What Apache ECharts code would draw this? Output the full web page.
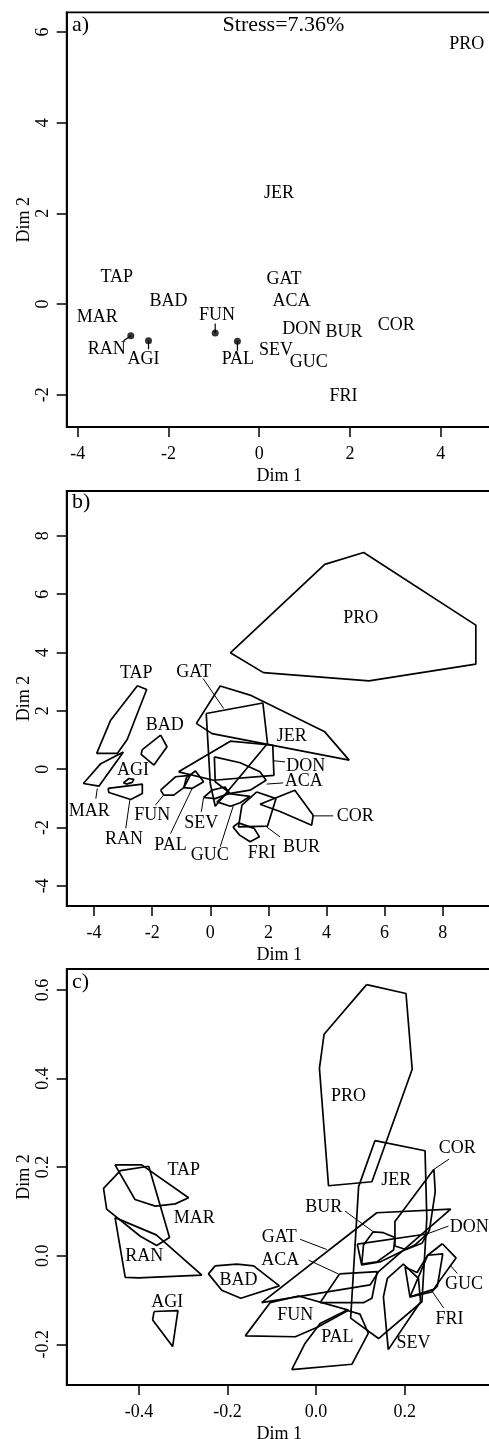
<!DOCTYPE html>
<html>
<head>
<meta charset="utf-8">
<script src="https://cdn.jsdelivr.net/npm/echarts@6/dist/echarts.min.js"></script>
<style>
html,body{margin:0;padding:0;background:#fff;}
#chart{width:489px;height:1439px;}
</style>
</head>
<body>
<div id="chart"></div>
<script>
const FONT = 'Liberation Serif';

// ---------- Panel a) : point configuration ----------
const namesA = ['PRO','JER','TAP','GAT','BAD','ACA','MAR','FUN','DON','BUR','COR','RAN','AGI','SEV','GUC','PAL','FRI'];
const xA = [4.575, 0.434, -3.14, 0.544, -2.0, 0.71, -3.57, -0.93, 0.94, 1.87, 3.02, -3.36, -2.55, 0.37, 1.09, -0.47, 1.86];
const yA = [5.73, 2.44, 0.58, 0.54, 0.07, 0.07, -0.30, -0.24, -0.55, -0.63, -0.46, -1.0, -1.22, -1.03, -1.29, -1.22, -2.04];
const dotsA = [[-2.83, -0.70], [-2.44, -0.81], [-0.97, -0.64], [-0.48, -0.82]];
const leadersA = [
  [[-2.83, -0.70], [-2.99, -0.81]],
  [[-2.44, -0.81], [-2.44, -1.00]],
  [[-0.97, -0.64], [-0.97, -0.43]],
  [[-0.48, -0.82], [-0.48, -1.03]]
];
const ticksAX = [-4, -2, 0, 2, 4];
const ticksAY = [-2, 0, 2, 4, 6];

// ---------- Panel b) : hulls ----------
const namesB = ['PRO','TAP','GAT','BAD','JER','DON','AGI','ACA','MAR','FUN','SEV','COR','RAN','PAL','GUC','FRI','BUR'];
const xB = [5.18, -2.55, -0.57, -1.57, 2.8, 3.29, -2.66, 3.22, -4.17, -2.0, -0.31, 4.99, -2.97, -1.37, -0.02, 1.77, 3.14];
const yB = [5.17, 3.28, 3.34, 1.49, 1.12, 0.11, -0.03, -0.43, -1.44, -1.58, -1.86, -1.63, -2.4, -2.61, -2.95, -2.89, -2.66];
const hullsB = [
  ['PRO', [[0.69,3.99],[3.94,7.02],[5.28,7.43],[9.14,4.94],[9.14,3.6],[5.46,3.03],[1.83,3.31]]],
  ['TAP', [[-2.51,2.86],[-2.19,2.73],[-2.86,1.02],[-3.2,0.54],[-3.91,0.54],[-3.43,1.68]]],
  ['BAD', [[-1.71,1.17],[-1.49,0.77],[-1.94,0.14],[-2.38,0.51],[-2.34,0.67]]],
  ['MAR', [[-2.99,0.59],[-3.77,0.19],[-4.37,-0.49],[-3.83,-0.58]]],
  ['AGI', [[-2.99,-0.47],[-2.8,-0.32],[-2.63,-0.35],[-2.69,-0.45],[-2.88,-0.51]]],
  ['RAN', [[-3.52,-0.66],[-2.34,-0.51],[-2.34,-0.83],[-2.74,-1.04],[-3.49,-0.8]]],
  ['FUN', [[-1.71,-0.72],[-1.6,-0.89],[-1.26,-0.89],[-0.91,-0.63],[-0.69,-0.21],[-1.2,-0.26]]],
  ['PAL', [[-0.91,-0.63],[-0.63,-0.66],[-0.23,-0.43],[-0.51,-0.06],[-0.82,-0.29]]],
  ['SEV', [[-0.23,-0.97],[0.06,-0.72],[0.51,-0.61],[0.66,-0.83],[0.17,-1.01]]],
  ['GUC', [[0.57,-0.83],[1.37,-0.93],[1.03,-1.15],[0.69,-1.27],[0.23,-1.12]]],
  ['JER', [[-0.48,1.57],[0.34,2.85],[1.37,2.54],[3.94,1.28],[4.78,0.31],[0.06,1.22]]],
  ['GAT', [[-0.14,1.91],[1.81,2.27],[1.97,0.88],[0.17,-1.27],[0.0,-0.5]]],
  ['DON', [[-1.09,-0.09],[0.69,0.96],[2.15,0.82],[2.19,-0.21],[0.11,-0.38]]],
  ['ACA', [[0.14,0.42],[1.03,0.22],[1.71,-0.09],[1.92,-0.38],[1.37,-0.72],[0.69,-0.83],[0.17,-0.43]]],
  ['BUR', [[1.6,-0.78],[2.26,-1.01],[1.97,-1.95],[0.97,-1.98],[1.09,-1.23]]],
  ['COR', [[1.71,-1.2],[2.91,-0.72],[3.54,-1.58],[3.49,-1.92],[2.4,-1.45]]],
  ['FRI', [[0.78,-1.98],[0.97,-1.84],[1.51,-2.03],[1.69,-2.32],[1.37,-2.49],[1.01,-2.26]]]
];
const leadersB = [
  [[-0.25,3.11],[0.46,2.08]],
  [[-3.89,-0.66],[-3.94,-1.01]],
  [[-2.77,-1.06],[-2.91,-2.03]],
  [[-1.6,-0.88],[-1.89,-1.23]],
  [[-0.63,-0.67],[-1.37,-2.21]],
  [[-0.23,-0.97],[-0.31,-1.46]],
  [[0.8,-1.23],[0.34,-2.66]],
  [[2.17,0.29],[2.57,0.25]],
  [[1.94,-0.51],[2.51,-0.47]],
  [[3.54,-1.6],[4.23,-1.6]],
  [[1.94,-1.98],[2.4,-2.32]]
];
const ticksBX = [-4, -2, 0, 2, 4, 6, 8];
const ticksBY = [-4, -2, 0, 2, 4, 6, 8];

// ---------- Panel c) : hulls ----------
const namesC = ['PRO','TAP','MAR','RAN','AGI','BAD','JER','COR','BUR','DON','GAT','ACA','GUC','FUN','FRI','PAL','SEV'];
const xC = [0.073, -0.299, -0.275, -0.388, -0.336, -0.175, 0.181, 0.319, 0.017, 0.346, -0.083, -0.081, 0.334, -0.047, 0.301, 0.048, 0.220];
const yC = [0.360, 0.193, 0.084, -0.002, -0.106, -0.056, 0.171, 0.242, 0.109, 0.065, 0.041, -0.010, -0.064, -0.134, -0.144, -0.185, -0.198];
const hullsC = [
  ['PRO', [[0.114,0.612],[0.203,0.592],[0.217,0.421],[0.126,0.167],[0.028,0.158],[0.0075,0.423],[0.018,0.500]]],
  ['TAP', [[-0.454,0.205],[-0.394,0.205],[-0.288,0.131],[-0.318,0.117],[-0.363,0.112],[-0.409,0.127]]],
  ['MAR', [[-0.378,0.202],[-0.331,0.041],[-0.36,0.023],[-0.397,0.044],[-0.473,0.105],[-0.48,0.152],[-0.442,0.192]]],
  ['RAN', [[-0.454,0.086],[-0.361,0.047],[-0.258,-0.044],[-0.401,-0.050],[-0.431,-0.049]]],
  ['AGI', [[-0.366,-0.126],[-0.312,-0.124],[-0.324,-0.205],[-0.369,-0.145]]],
  ['BAD', [[-0.228,-0.023],[-0.179,-0.019],[-0.141,-0.023],[-0.083,-0.068],[-0.170,-0.096],[-0.213,-0.078],[-0.243,-0.041]]],
  ['JER', [[0.133,0.260],[0.246,0.237],[0.250,0.084],[0.239,-0.104],[0.141,-0.187],[0.078,-0.141],[0.096,0.156]]],
  ['COR', [[0.266,0.195],[0.269,0.144],[0.256,0.058],[0.239,0.028],[0.203,0.014],[0.178,0.022],[0.178,0.077]]],
  ['GAT', [[-0.123,-0.106],[0.137,0.097],[0.304,0.105],[0.141,-0.036],[0.122,-0.066]]],
  ['ACA', [[0.053,-0.041],[0.138,-0.036],[0.126,-0.096],[0.107,-0.106],[0.009,-0.106]]],
  ['FUN', [[-0.160,-0.181],[-0.104,-0.106],[-0.040,-0.091],[0.073,-0.123],[0.004,-0.161],[-0.047,-0.183]]],
  ['PAL', [[-0.055,-0.257],[0.081,-0.245],[0.118,-0.175],[0.099,-0.132],[0.069,-0.123],[0.009,-0.153],[-0.025,-0.198]]],
  ['BUR', [[0.129,0.054],[0.152,0.052],[0.178,0.041],[0.175,0.013],[0.137,-0.014],[0.103,-0.019],[0.107,0.024]]],
  ['DON', [[0.093,0.026],[0.250,0.049],[0.223,0.024],[0.144,-0.014],[0.103,-0.021]]],
  ['SEV', [[0.163,-0.212],[0.152,-0.093],[0.161,-0.051],[0.197,-0.019],[0.231,-0.051],[0.236,-0.104]]],
  ['GUC', [[0.285,0.027],[0.316,-0.005],[0.265,-0.076],[0.212,-0.093],[0.252,0.001]]],
  ['FRI', [[0.252,0.001],[0.286,0.004],[0.274,-0.068],[0.261,-0.082],[0.212,-0.093],[0.201,-0.026],[0.228,-0.038]]]
];
const leadersC = [
  [[0.300,0.218],[0.266,0.195]],
  [[0.065,0.101],[0.129,0.054]],
  [[0.299,0.067],[0.250,0.049]],
  [[-0.036,0.037],[0.024,0.014]],
  [[-0.017,-0.010],[0.050,-0.041]],
  [[0.302,-0.021],[0.319,-0.040]],
  [[0.263,-0.082],[0.288,-0.118]]
];
const ticksCX = [-0.4, -0.2, 0, 0.2];
const ticksCY = [-0.2, 0, 0.2, 0.4, 0.6];

// ---------- build ----------
const txt = {fontFamily: FONT, fontSize: 18, color: '#000'};

function grid(top, height) {
  return {left: 66.7, top: top, width: 425.3, height: height, show: true,
    borderColor: '#000', borderWidth: 1.8, backgroundColor: 'transparent',
    containLabel: false, outerBoundsMode: 'none'};
}
function xAx(gi, min, max, ticks, dec) {
  return {type: 'value', gridIndex: gi, min: min, max: max,
    name: 'Dim 1', nameLocation: 'middle', nameGap: 40, nameMoveOverlap: false,
    nameTextStyle: txt,
    axisLine: {show: true, onZero: false, lineStyle: {color: '#000', width: 1.8}},
    axisTick: {show: true, inside: false, length: 10, customValues: ticks, lineStyle: {color: '#000', width: 1.5}},
    axisLabel: Object.assign({show: true, customValues: ticks, margin: 18,
      formatter: v => dec ? Number(v).toFixed(dec) : String(Math.round(v))}, txt),
    splitLine: {show: false}};
}
function yAx(gi, min, max, ticks, dec) {
  return {type: 'value', gridIndex: gi, min: min, max: max,
    name: 'Dim 2', nameLocation: 'middle', nameGap: 33, nameRotate: 90, nameMoveOverlap: false,
    nameTextStyle: txt,
    axisLine: {show: true, onZero: false, lineStyle: {color: '#000', width: 1.8}},
    axisTick: {show: true, inside: false, length: 10, customValues: ticks, lineStyle: {color: '#000', width: 1.5}},
    axisLabel: Object.assign({show: true, customValues: ticks, margin: 14, rotate: 90,
      formatter: v => dec ? Number(v).toFixed(dec) : String(Math.round(v))}, txt),
    splitLine: {show: false}};
}

const series = [];
function addLine(gi, pts, width) {
  series.push({type: 'line', xAxisIndex: gi, yAxisIndex: gi, data: pts,
    symbol: 'none', silent: true, animation: false, clip: true,
    lineStyle: {color: '#000', width: width}, z: 3});
}
function addLabels(gi, names, xs, ys) {
  series.push({type: 'scatter', xAxisIndex: gi, yAxisIndex: gi, silent: true, animation: false,
    symbolSize: 1, itemStyle: {color: 'rgba(0,0,0,0)'},
    data: names.map((n, i) => ({name: n, value: [xs[i], ys[i]]})),
    label: Object.assign({show: true, position: 'inside', formatter: '{b}', opacity: 1,
      textBorderWidth: 0, textShadowBlur: 0}, txt), z: 5});
}

// panel a
addLabels(0, namesA, xA, yA);
series.push({type: 'scatter', xAxisIndex: 0, yAxisIndex: 0, silent: true, animation: false,
  symbol: 'circle', symbolSize: 7, itemStyle: {color: '#000'}, data: dotsA, z: 4});
leadersA.forEach(s => addLine(0, s, 1.2));
// panel b
hullsB.forEach(h => addLine(1, h[1].concat([h[1][0]]), 1.7));
leadersB.forEach(s => addLine(1, s, 1));
addLabels(1, namesB, xB, yB);
// panel c
hullsC.forEach(h => addLine(2, h[1].concat([h[1][0]]), 1.7));
leadersC.forEach(s => addLine(2, s, 1));
addLabels(2, namesC, xC, yC);

const big = {fontFamily: FONT, fontSize: 22, fill: '#000'};
const option = {
  backgroundColor: '#fff',
  animation: false,
  grid: [grid(12.3, 414.7), grid(491, 415), grid(969, 416)],
  xAxis: [xAx(0, -4.243, 5.131, ticksAX, 0), xAx(1, -4.943, 9.697, ticksBX, 0), xAx(2, -0.5632, 0.3972, ticksCX, 1)],
  yAxis: [yAx(0, -2.713, 6.435, ticksAY, 0), yAx(1, -4.69, 9.537, ticksBY, 0), yAx(2, -0.2919, 0.6473, ticksCY, 1)],
  graphic: [
    {type: 'text', left: 72, top: 14, style: Object.assign({text: 'a)'}, big)},
    {type: 'text', left: 72, top: 491, style: Object.assign({text: 'b)'}, big)},
    {type: 'text', left: 72, top: 971, style: Object.assign({text: 'c)'}, big)},
    {type: 'text', x: 283.5, y: 25, style: Object.assign({text: 'Stress=7.36%', align: 'center', verticalAlign: 'middle'}, big)}
  ],
  series: series
};
const chart = echarts.init(document.getElementById('chart'), null, {renderer: 'canvas'});
chart.setOption(option);
</script>
</body>
</html>
